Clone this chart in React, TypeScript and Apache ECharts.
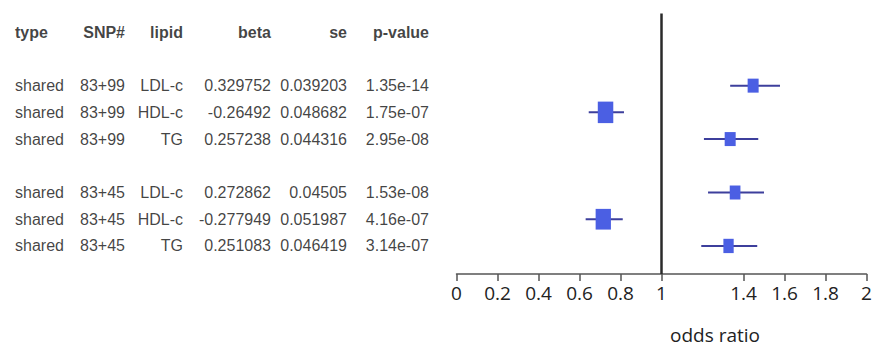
import React, { useEffect, useRef } from "react";
import * as echarts from "echarts";

// ---- data ----
const headers = ["type", "SNP#", "lipid", "beta", "se", "p-value"];
const types = ["shared", "shared", "shared", "shared", "shared", "shared"];
const snps = ["83+99", "83+99", "83+99", "83+45", "83+45", "83+45"];
const lipids = ["LDL-c", "HDL-c", "TG", "LDL-c", "HDL-c", "TG"];
const betas = ["0.329752", "-0.26492", "0.257238", "0.272862", "-0.277949", "0.251083"];
const ses = ["0.039203", "0.048682", "0.044316", "0.04505", "0.051987", "0.046419"];
const pvalues = ["1.35e-14", "1.75e-07", "2.95e-08", "1.53e-08", "4.16e-07", "3.14e-07"];
const oddsRatio = [1.447, 0.727, 1.335, 1.359, 0.716, 1.327];
const ciLow = [1.335, 0.645, 1.207, 1.227, 0.63, 1.194];
const ciHigh = [1.578, 0.817, 1.472, 1.5, 0.811, 1.467];
const rowIndex = [2, 3, 4, 6, 7, 8];
const xTickValues = [0, 0.2, 0.4, 0.6, 0.8, 1, 1.4, 1.6, 1.8, 2];
const referenceLine = 1;

// ---- layout / style ----
const boxW = [11, 15.5, 11, 10.7, 15.3, 10.3];
const boxH = [14, 21.5, 14, 14, 20.7, 14.3];
const colAnchor = [15, 125, 183, 271, 347, 429];
const colSide = ["right", "left", "left", "left", "left", "left"];
const Y_MIN = -0.7;
const Y_MAX = 9.05;
const GRID_TOP = 13.5;
const GRID_H = 260.5;

export default function App() {
  const ref = useRef<HTMLDivElement>(null);
  useEffect(() => {
    document.body.style.margin = "0";
    const chart = echarts.init(ref.current!, null, { renderer: "svg" });
    const columns = [types, snps, lipids, betas, ses, pvalues];
    const tableSeries = columns.map((col, ci) => ({
      type: "scatter",
      xAxisIndex: 1,
      yAxisIndex: 1,
      symbolSize: 0,
      silent: true,
      data: [
        { value: [colAnchor[ci], 0, headers[ci]], label: { fontWeight: "bold" } },
        ...col.map((t, i) => ({ value: [colAnchor[ci], rowIndex[i], t] })),
      ],
      label: {
        show: true,
        position: colSide[ci],
        distance: 0,
        formatter: (p: any) => p.value[2],
        fontFamily: "Liberation Sans, Arial, sans-serif",
        fontSize: 16,
        color: "#111",
      },
    }));
    const forestData = oddsRatio.map((v, i) => [v, rowIndex[i], ciLow[i], ciHigh[i], boxW[i], boxH[i]]);
    chart.setOption({
      animation: false,
      grid: [
        { left: 456.5, right: 10.5, top: GRID_TOP, height: GRID_H },
        { left: 0, right: 0, top: GRID_TOP, height: GRID_H },
      ],
      xAxis: [
        {
          type: "value",
          gridIndex: 0,
          position: "bottom",
          min: 0,
          max: 2,
          splitLine: { show: false },
          axisLine: { show: true, onZero: false, lineStyle: { color: "#555", width: 1.5 } },
          axisTick: { show: true, customValues: xTickValues, length: 7, lineStyle: { color: "#555", width: 1.5 } },
          axisLabel: {
            customValues: xTickValues,
            fontFamily: "Open Sans, sans-serif",
            fontSize: 19,
            color: "#222",
            margin: 9,
            formatter: (v: number) => String(v),
          },
        },
        { type: "value", gridIndex: 1, min: 0, max: 877, show: false },
      ],
      yAxis: [
        { type: "value", gridIndex: 0, min: Y_MIN, max: Y_MAX, inverse: true, show: false },
        { type: "value", gridIndex: 1, min: Y_MIN, max: Y_MAX, inverse: true, show: false },
      ],
      graphic: [
        {
          type: "text",
          x: 670,
          y: 335,
          style: {
            text: "odds ratio",
            fontFamily: "Open Sans, sans-serif",
            fontSize: 19,
            lineHeight: 19,
            fill: "#222",
            verticalAlign: "middle",
          },
        },
      ],
      series: [
        {
          type: "custom",
          xAxisIndex: 0,
          yAxisIndex: 0,
          encode: { x: [0, 2, 3], y: 1 },
          data: forestData,
          renderItem: (params: any, api: any) => {
            const y = api.value(1);
            const lo = api.coord([api.value(2), y]);
            const hi = api.coord([api.value(3), y]);
            const c = api.coord([api.value(0), y]);
            const w = api.value(4);
            const h = api.value(5);
            return {
              type: "group",
              children: [
                {
                  type: "line",
                  shape: { x1: lo[0], y1: lo[1], x2: hi[0], y2: hi[1] },
                  style: { stroke: "#3d3f9c", lineWidth: 2 },
                },
                {
                  type: "rect",
                  shape: { x: c[0] - w / 2, y: c[1] - h / 2, width: w, height: h },
                  style: { fill: "#4b5fe3" },
                },
              ],
            };
          },
          markLine: {
            silent: true,
            symbol: "none",
            label: { show: false },
            lineStyle: { color: "#2a2a2a", width: 2.5, type: "solid" },
            data: [{ xAxis: referenceLine }],
          },
        },
        ...tableSeries,
      ],
    });
    return () => chart.dispose();
  }, []);
  return <div ref={ref} style={{ width: 877, height: 348 }} />;
}
